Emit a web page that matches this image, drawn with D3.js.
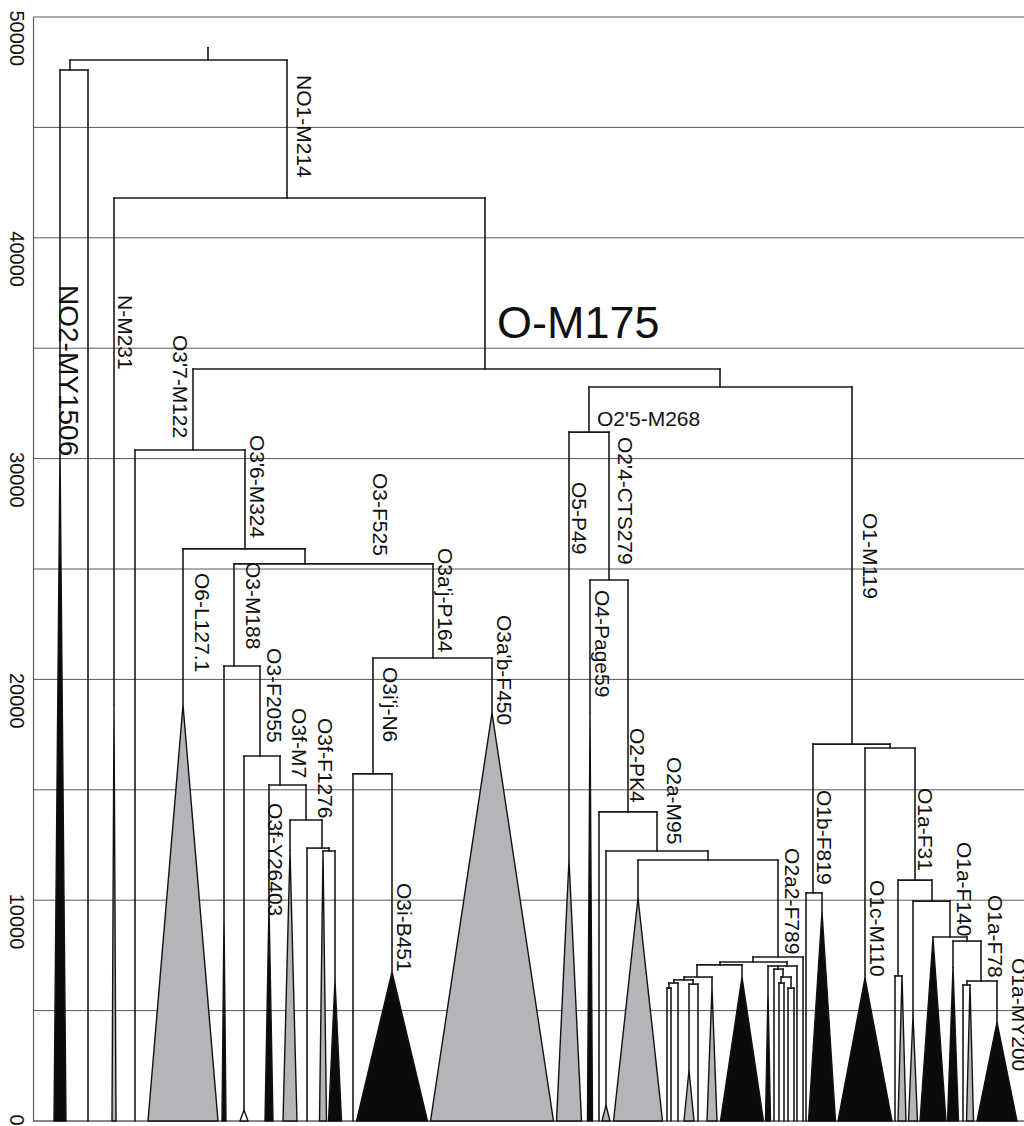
<!DOCTYPE html>
<html><head><meta charset="utf-8">
<script src="https://cdn.jsdelivr.net/npm/d3@7"></script>
<style>html,body{margin:0;padding:0;background:#fff}svg{display:block}</style>
</head><body><svg id="c" width="1024" height="1126"></svg>
<script>
// ---------- DATA ----------
// age grid (years) and labelled ticks
const gridAges = [0,5000,10000,15000,20000,25000,30000,35000,40000,45000,50000];
const tickAges = [0,10000,20000,30000,40000,50000];

// internal nodes: id, parent, age (years), pos (horizontal layout position)
const nodes = [
  {id:"root",     parent:null,       age:48600, pos:208},
  {id:"NO",       parent:"root",     age:48050, pos:208},
  {id:"NO2",      parent:"NO",       age:47600, pos:70},
  {id:"NO1",      parent:"NO",       age:41800, pos:287},
  {id:"O",        parent:"NO1",      age:34060, pos:485},
  {id:"O37",      parent:"O",        age:30390, pos:193},
  {id:"O36",      parent:"O37",      age:25910, pos:245},
  {id:"O3",       parent:"O36",      age:25230, pos:305},
  {id:"O3M188",   parent:"O3",       age:20610, pos:234},
  {id:"O3F2055",  parent:"O3M188",   age:16530, pos:260},
  {id:"O3fM7",    parent:"O3F2055",  age:15220, pos:280},
  {id:"O3fF1276", parent:"O3fM7",    age:13630, pos:306},
  {id:"O3fa",     parent:"O3fF1276", age:12360, pos:322},
  {id:"O3fb",     parent:"O3fa",     age:12230, pos:329},
  {id:"O3aj",     parent:"O3",       age:20970, pos:433},
  {id:"O3ij",     parent:"O3aj",     age:15720, pos:373},
  {id:"O1245",    parent:"O",        age:33240, pos:720},
  {id:"O25",      parent:"O1245",    age:31200, pos:589},
  {id:"O24",      parent:"O25",      age:24500, pos:609},
  {id:"O2PK4",    parent:"O24",      age:14000, pos:628},
  {id:"O2aM95",   parent:"O2PK4",    age:12230, pos:657},
  {id:"O2a",      parent:"O2aM95",   age:11820, pos:708},
  {id:"O2a2",     parent:"O2a",      age:7430,  pos:778},
  {id:"N1",       parent:"O2a2",     age:7200,  pos:753},
  {id:"A",        parent:"N1",       age:7070,  pos:720},
  {id:"B",        parent:"A",        age:6520,  pos:697},
  {id:"C",        parent:"B",        age:6390,  pos:684},
  {id:"D",        parent:"C",        age:6250,  pos:674},
  {id:"E",        parent:"D",        age:6020,  pos:669},
  {id:"F",        parent:"C",        age:6200,  pos:693},
  {id:"R",        parent:"N1",       age:7020,  pos:787},
  {id:"R1",       parent:"R",        age:6880,  pos:778},
  {id:"R2",       parent:"R1",       age:6520,  pos:783},
  {id:"R3",       parent:"R2",       age:6250,  pos:781},
  {id:"R4",       parent:"R2",       age:6020,  pos:791},
  {id:"O1",       parent:"O1245",    age:17070, pos:852},
  {id:"O1b",      parent:"O1",       age:10330, pos:813},
  {id:"O1ac",     parent:"O1",       age:16890, pos:890},
  {id:"O1aF31",   parent:"O1ac",     age:10910, pos:915},
  {id:"O1x",      parent:"O1aF31",   age:6570,  pos:898},
  {id:"O1aF140",  parent:"O1aF31",   age:9960,  pos:932},
  {id:"Na",       parent:"O1aF140",  age:8330,  pos:950},
  {id:"Nb",       parent:"Na",       age:8150,  pos:967},
  {id:"O1aF78",   parent:"Nb",       age:6340,  pos:981},
  {id:"Nc",       parent:"O1aF78",   age:6160,  pos:967}
];

// terminal clades: apex age of the collapsed clade (0 = single lineage), half width of the base, colour class
const leaves = [
  {id:"l1",  parent:"NO2",      pos:60,  apex:30390, hw:6,    fill:"black"},
  {id:"l2",  parent:"NO2",      pos:88,  apex:0,     hw:0,    fill:"none"},
  {id:"l3",  parent:"NO1",      pos:114, apex:18840, hw:2,    fill:"gray"},
  {id:"l4",  parent:"O37",      pos:135, apex:0,     hw:0,    fill:"none"},
  {id:"l5",  parent:"O36",      pos:183, apex:18840, hw:35,   fill:"gray"},
  {id:"l6",  parent:"O3M188",   pos:224, apex:9330,  hw:2,    fill:"black"},
  {id:"l7",  parent:"O3F2055",  pos:244, apex:500,   hw:4,    fill:"white"},
  {id:"l8",  parent:"O3fM7",    pos:269, apex:9780,  hw:4,    fill:"black"},
  {id:"l9",  parent:"O3fF1276", pos:290, apex:12270, hw:7,    fill:"gray"},
  {id:"l10", parent:"O3fa",     pos:307, apex:0,     hw:0,    fill:"none"},
  {id:"l11", parent:"O3fb",     pos:323, apex:12230, hw:3.5,  fill:"gray"},
  {id:"l12", parent:"O3fb",     pos:335, apex:6390,  hw:6.5,  fill:"black"},
  {id:"l13", parent:"O3ij",     pos:353, apex:0,     hw:0,    fill:"none"},
  {id:"l14", parent:"O3ij",     pos:392, apex:6750,  hw:35.5, fill:"black"},
  {id:"l15", parent:"O3aj",     pos:492, apex:18480, hw:61.5, fill:"gray"},
  {id:"l16", parent:"O25",      pos:569, apex:11820, hw:12.5, fill:"gray"},
  {id:"l17", parent:"O24",      pos:590, apex:18480, hw:2.5,  fill:"black"},
  {id:"l18", parent:"O2PK4",    pos:599, apex:0,     hw:0,    fill:"none"},
  {id:"l19", parent:"O2aM95",   pos:606, apex:720,   hw:4,    fill:"gray"},
  {id:"l20", parent:"O2a",      pos:638, apex:10100, hw:24.5, fill:"gray"},
  {id:"l21", parent:"O2a2",     pos:803, apex:0,     hw:0,    fill:"none"},
  {id:"l22", parent:"A",        pos:742, apex:6520,  hw:21.5, fill:"black"},
  {id:"l23", parent:"B",        pos:712, apex:6070,  hw:5,    fill:"gray"},
  {id:"l24", parent:"D",        pos:678, apex:0,     hw:0,    fill:"none"},
  {id:"l25", parent:"E",        pos:667, apex:0,     hw:0,    fill:"none"},
  {id:"l26", parent:"E",        pos:671, apex:0,     hw:0,    fill:"none"},
  {id:"l27", parent:"F",        pos:689, apex:2310,  hw:5,    fill:"gray"},
  {id:"l28", parent:"F",        pos:698, apex:0,     hw:0,    fill:"none"},
  {id:"l29", parent:"R",        pos:768, apex:5930,  hw:2.5,  fill:"black"},
  {id:"l30", parent:"R",        pos:797, apex:0,     hw:0,    fill:"none"},
  {id:"l31", parent:"R1",       pos:774, apex:0,     hw:0,    fill:"none"},
  {id:"l32", parent:"R3",       pos:779, apex:0,     hw:0,    fill:"none"},
  {id:"l33", parent:"R3",       pos:784, apex:0,     hw:0,    fill:"none"},
  {id:"l34", parent:"R4",       pos:788, apex:0,     hw:0,    fill:"none"},
  {id:"l35", parent:"R4",       pos:794, apex:0,     hw:0,    fill:"none"},
  {id:"l36", parent:"O1b",      pos:806, apex:0,     hw:0,    fill:"none"},
  {id:"l37", parent:"O1b",      pos:822, apex:9470,  hw:13.5, fill:"black"},
  {id:"l38", parent:"O1ac",     pos:865, apex:6480,  hw:27,   fill:"black"},
  {id:"l39", parent:"O1x",      pos:895, apex:0,     hw:0,    fill:"none"},
  {id:"l40", parent:"O1x",      pos:902, apex:6570,  hw:4,    fill:"gray"},
  {id:"l41", parent:"O1aF140",  pos:913, apex:4800,  hw:4.5,  fill:"gray"},
  {id:"l42", parent:"Na",       pos:933, apex:8290,  hw:13,   fill:"black"},
  {id:"l43", parent:"Nb",       pos:953, apex:6970,  hw:5.5,  fill:"black"},
  {id:"l44", parent:"O1aF78",   pos:997, apex:4480,  hw:20,   fill:"black"},
  {id:"l45", parent:"Nc",       pos:963, apex:0,     hw:0,    fill:"none"},
  {id:"l46", parent:"Nc",       pos:970, apex:6160,  hw:3.5,  fill:"gray"}
];

// haplogroup labels: text, anchor pos, anchor age, font size, vertical (rotated) or not
const cladeLabels = [
  {text:"NO1-M214",    pos:297,  age:47370, size:21, vertical:true},
  {text:"N-M231",      pos:118,  age:37410, size:21, vertical:true},
  {text:"NO2-MY1506",  pos:59,   age:37860, size:28, vertical:true},
  {text:"O3'7-M122",   pos:173,  age:35600, size:21, vertical:true},
  {text:"O3'6-M324",   pos:250,  age:31070, size:21, vertical:true},
  {text:"O3-F525",     pos:373,  age:29350, size:21, vertical:true},
  {text:"O3a'j-P164",  pos:438,  age:25950, size:21, vertical:true},
  {text:"O6-L127.1",   pos:195,  age:24820, size:21, vertical:true},
  {text:"O3-M188",     pos:246,  age:25320, size:21, vertical:true},
  {text:"O3-F2055",    pos:267,  age:21420, size:21, vertical:true},
  {text:"O3f-M7",      pos:292,  age:18700, size:21, vertical:true},
  {text:"O3f-F1276",   pos:318,  age:18250, size:21, vertical:true},
  {text:"O3f-Y26403",  pos:268,  age:14400, size:21, vertical:true},
  {text:"O3i'j-N6",    pos:383,  age:20560, size:21, vertical:true},
  {text:"O3i-B451",    pos:397,  age:10780, size:21, vertical:true},
  {text:"O3a'b-F450",  pos:497,  age:22920, size:21, vertical:true},
  {text:"O5-P49",      pos:572,  age:28940, size:21, vertical:true},
  {text:"O2'4-CTS279", pos:618,  age:30980, size:21, vertical:true},
  {text:"O4-Page59",   pos:595,  age:24050, size:21, vertical:true},
  {text:"O2-PK4",      pos:630,  age:17800, size:21, vertical:true},
  {text:"O2a-M95",     pos:667,  age:16490, size:21, vertical:true},
  {text:"O1-M119",     pos:863,  age:27540, size:21, vertical:true},
  {text:"O2a2-F789",   pos:785,  age:12360, size:21, vertical:true},
  {text:"O1b-F819",    pos:817,  age:14990, size:21, vertical:true},
  {text:"O1c-M110",    pos:870,  age:10910, size:21, vertical:true},
  {text:"O1a-F31",     pos:918,  age:15080, size:21, vertical:true},
  {text:"O1a-F140",    pos:957,  age:12640, size:21, vertical:true},
  {text:"O1a-F78",     pos:988,  age:10240, size:21, vertical:true},
  {text:"O1a-MY200",   pos:1012, age:7380,  size:21, vertical:true},
  {text:"O-M175",      pos:497,  age:35460, size:45, vertical:false},
  {text:"O2'5-M268",   pos:597,  age:31480, size:21, vertical:false}
];

const fillColours = {black:"#0b0b0b", gray:"#b4b5b9", white:"#ffffff"};

// ---------- CHART ----------
const svg = d3.select("#c");
const FONT = "'Liberation Sans', Arial, Helvetica, sans-serif";
const y = d3.scaleLinear().domain([0, 50000]).range([1121, 17]);
const x = d3.scaleLinear().domain([0, 1024]).range([0, 1024]);
const axisX = 33;

// table for the hierarchy
const table = nodes.map(n => ({...n, leaf:false}))
  .concat(leaves.map(l => ({...l, age:l.apex, leaf:true})));
const root = d3.stratify().id(d => d.id).parentId(d => d.parent)(table);

// grid lines
svg.append("g").selectAll("line").data(gridAges).join("line")
  .attr("x1", axisX).attr("x2", 1024)
  .attr("y1", d => y(d)).attr("y2", d => y(d))
  .attr("stroke", d => d === 0 ? "#888" : "#5a5a5a")
  .attr("stroke-width", d => d === 0 ? 2 : 1);

// axis
const axis = svg.append("g").attr("transform", `translate(${axisX},0)`)
  .call(d3.axisLeft(y).tickValues(tickAges).tickSize(0).tickSizeOuter(0).tickFormat(d3.format("d")));
axis.select(".domain").attr("stroke", "#5a5a5a").attr("stroke-width", 1.2);
axis.selectAll("text")
  .attr("x", 0).attr("dy", 0)
  .attr("text-anchor", "start")
  .attr("transform", "translate(-23,-7) rotate(90)")
  .attr("font-family", FONT).attr("font-size", 20).attr("fill", "#111");

// collapsed clade triangles
const tri = root.leaves().filter(d => d.data.apex > 0);
svg.append("g").selectAll("path").data(tri).join("path")
  .attr("d", d => {
    const p = d.data;
    return `M${x(p.pos)},${y(p.apex)}L${x(p.pos - p.hw)},${y(0)}L${x(p.pos + p.hw)},${y(0)}Z`;
  })
  .attr("fill", d => fillColours[d.data.fill])
  .attr("stroke", "#111").attr("stroke-width", 1.4).attr("stroke-linejoin", "miter");

// vertical branches
svg.append("g").selectAll("path").data(root.descendants().filter(d => d.parent)).join("path")
  .attr("d", d => `M${x(d.data.pos)},${y(d.parent.data.age)}V${y(d.data.age)}`)
  .attr("fill", "none").attr("stroke", "#1a1a1a").attr("stroke-width", 1.6)
  .attr("stroke-linecap", "square");

// horizontal connectors
svg.append("g").selectAll("path").data(root.descendants().filter(d => d.children)).join("path")
  .attr("d", d => {
    const ps = d.children.map(c => c.data.pos);
    return `M${x(d3.min(ps))},${y(d.data.age)}H${x(d3.max(ps))}`;
  })
  .attr("fill", "none").attr("stroke", "#1a1a1a").attr("stroke-width", 1.6)
  .attr("stroke-linecap", "square");

// labels
svg.append("g").selectAll("text").data(cladeLabels).join("text")
  .attr("transform", d => `translate(${x(d.pos)},${y(d.age)})` + (d.vertical ? " rotate(90)" : ""))
  .attr("text-anchor", "start")
  .attr("font-family", FONT)
  .attr("font-size", d => d.size)
  .attr("fill", "#111")
  .text(d => d.text);
</script>
</body></html>
